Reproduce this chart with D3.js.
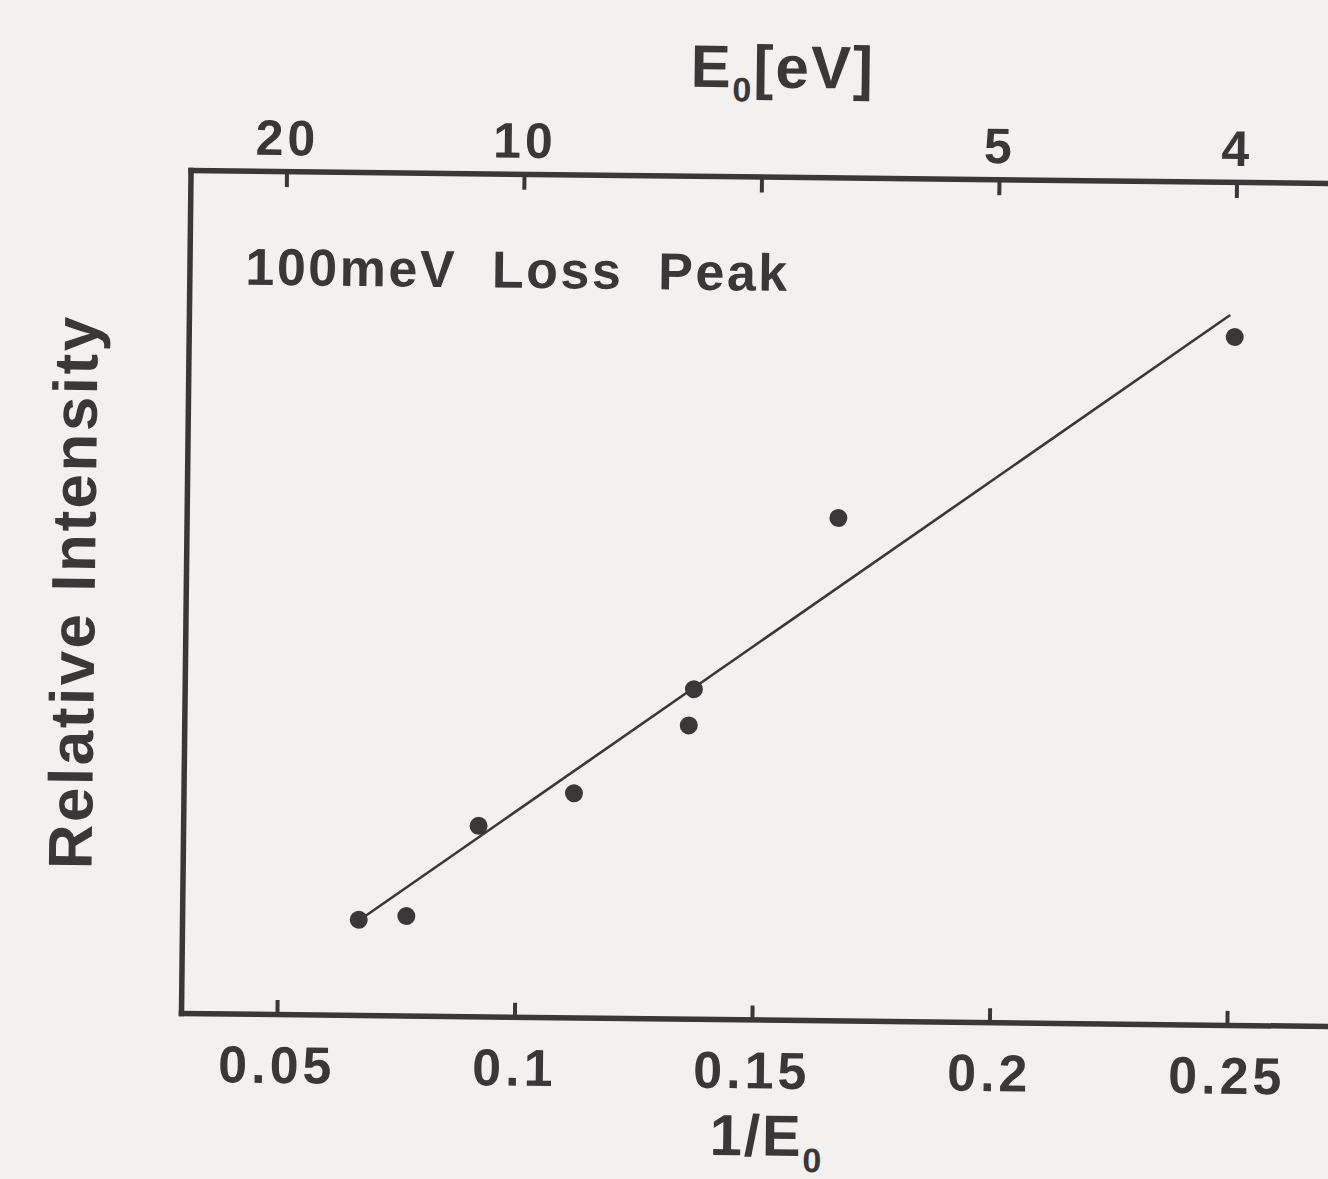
<!DOCTYPE html>
<html>
<head>
<meta charset="utf-8">
<script src="https://cdn.jsdelivr.net/npm/d3@7/dist/d3.min.js"></script>
<style>
  html, body { margin: 0; padding: 0; background: #f3f1f0; }
  svg { display: block; }
  text { font-family: "Liberation Sans", Arial, Helvetica, sans-serif; font-weight: bold; fill: #3b3637; }
</style>
</head>
<body>
<svg id="chart" width="1328" height="1179"></svg>
<script>
// 100 meV loss peak: relative intensity against inverse primary energy 1/E0
const invE0     = [0.067, 0.077, 0.092, 0.112, 0.136, 0.137, 0.167, 0.250];
const intensity = [0.113, 0.118, 0.226, 0.266, 0.348, 0.391, 0.596, 0.816];

// straight-line fit through the points (end points in data units)
const fitX = [0.068, 0.249];
const fitY = [0.116, 0.842];

// bottom axis: 1/E0 ; top axis: corresponding E0 in eV
const bottomTicks  = [0.05, 0.1, 0.15, 0.2, 0.25];
const bottomLabels = ["0.05", "0.1", "0.15", "0.2", "0.25"];
const topTicks     = [0.05, 0.1, 0.15, 0.2, 0.25];
const topLabels    = ["20", "10", "", "5", "4"];

const ink = "#3b3637";
const svg = d3.select("#chart");

const frameLeft = 181, frameBottom = 1013, frameTop = 170;
const x = d3.scaleLinear().domain([0.0298, 0.29]).range([frameLeft, 39.5 + 0.29 * 4750]);
const y = d3.scaleLinear().domain([0, 1]).range([frameBottom, frameTop]);

// the printed figure sits slightly tilted on the page
const g = svg.append("g").attr("transform", `rotate(0.65, ${frameLeft}, ${frameBottom})`);

function styleAxis(sel, fontSize) {
  sel.attr("font-family", null).attr("font-size", null);
  sel.select(".domain").attr("stroke", ink).attr("stroke-width", 5.5).attr("stroke-linecap", "square");
  sel.selectAll(".tick line").attr("stroke", ink).attr("stroke-width", 4);
  sel.selectAll(".tick text")
    .attr("fill", ink)
    .style("font-family", '"Liberation Sans", Arial, sans-serif')
    .style("font-weight", "bold")
    .style("font-size", fontSize + "px")
    .style("letter-spacing", "4px");
}

// bottom axis
const xBottom = d3.axisBottom(x)
  .tickValues(bottomTicks)
  .tickFormat((d, i) => bottomLabels[i])
  .tickSizeInner(-14).tickSizeOuter(0).tickPadding(32);
const gb = g.append("g").attr("transform", `translate(0,${frameBottom})`).call(xBottom);
styleAxis(gb, 52);

// top axis
const xTop = d3.axisTop(x)
  .tickValues(topTicks)
  .tickFormat((d, i) => topLabels[i])
  .tickSizeInner(-16).tickSizeOuter(0).tickPadding(16);
const gt = g.append("g").attr("transform", `translate(0,${frameTop})`).call(xTop);
styleAxis(gt, 50);

// left axis: frame line only, no ticks
const yLeft = d3.axisLeft(y).tickValues([]).tickSizeOuter(0);
const gl = g.append("g").attr("transform", `translate(${frameLeft},0)`).call(yLeft);
styleAxis(gl, 50);

// fit line
const line = d3.line().x(d => x(d[0])).y(d => y(d[1]));
g.append("path")
  .datum(d3.zip(fitX, fitY))
  .attr("d", line)
  .attr("fill", "none")
  .attr("stroke", ink)
  .attr("stroke-width", 2.6);

// measured points
g.selectAll("circle.pt")
  .data(d3.zip(invE0, intensity))
  .join("circle")
  .attr("class", "pt")
  .attr("cx", d => x(d[0]))
  .attr("cy", d => y(d[1]))
  .attr("r", 9)
  .attr("fill", ink);

// panel annotation
g.append("text")
  .attr("x", 237).attr("y", 284)
  .style("font-size", "52px")
  .style("letter-spacing", "2.5px")
  .style("word-spacing", "18px")
  .text("100meV Loss Peak");

// top axis title: E0[eV]
const tt = g.append("text")
  .attr("x", 772).attr("y", 81)
  .attr("text-anchor", "middle")
  .style("font-size", "60px")
  .style("letter-spacing", "2px");
tt.append("tspan").text("E");
tt.append("tspan").attr("dy", 14).style("font-size", "34px").text("0");
tt.append("tspan").attr("dy", -14).text("[eV]");

// bottom axis title: 1/E0
const bt = g.append("text")
  .attr("x", 768).attr("y", 1149)
  .attr("text-anchor", "middle")
  .style("font-size", "58px")
  .style("letter-spacing", "2px");
bt.append("tspan").text("1/E");
bt.append("tspan").attr("dy", 16).style("font-size", "34px").text("0");

// vertical axis title
g.append("text")
  .attr("transform", "translate(90,593) rotate(-90)")
  .attr("text-anchor", "middle")
  .style("font-size", "62px")
  .style("letter-spacing", "2.5px")
  .text("Relative Intensity");
</script>
</body>
</html>
